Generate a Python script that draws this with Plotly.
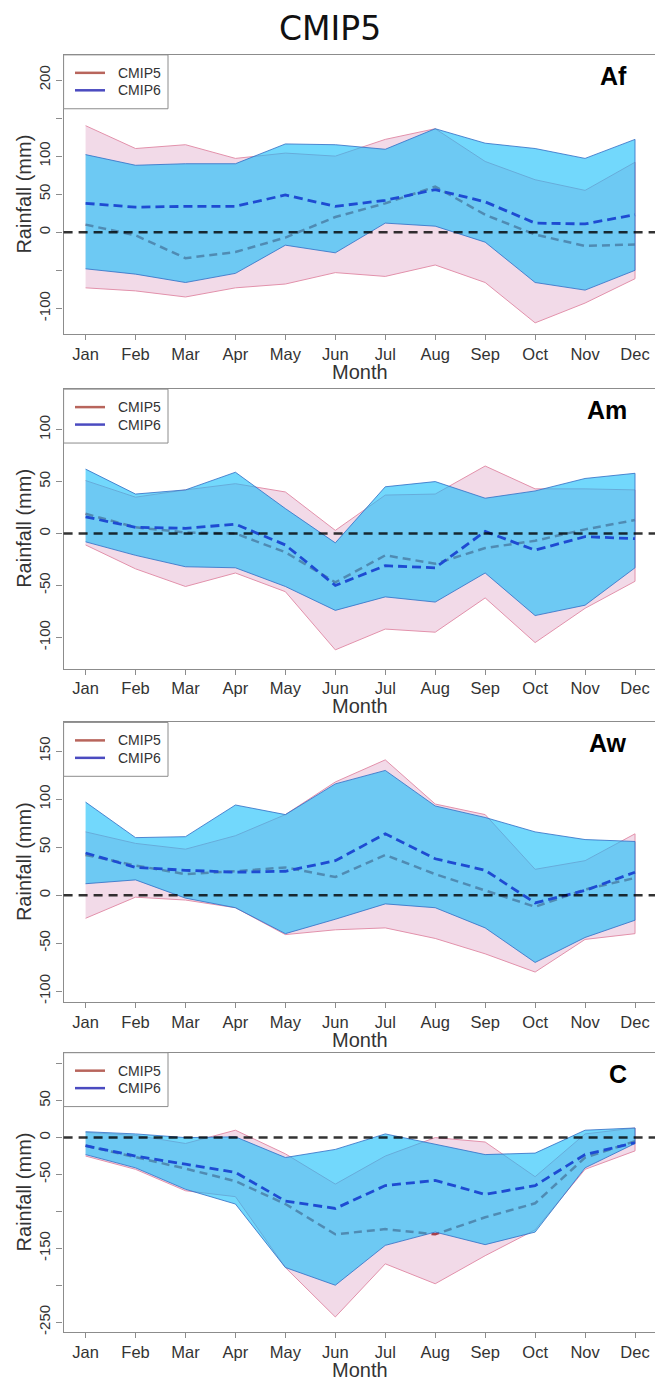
import plotly.graph_objects as go

months = ["Jan", "Feb", "Mar", "Apr", "May", "Jun", "Jul", "Aug", "Sep", "Oct", "Nov", "Dec"]
regions = ["Af", "Am", "Aw", "C"]

# ---- Af ----
af_c5_max = [140, 110, 115, 97, 104, 100, 122, 136, 93, 69, 55, 92]
af_c5_min = [-73, -77, -85, -73, -68, -53, -58, -43, -66, -119, -93, -61]
af_c5_med = [10, -4, -34, -26, -7, 20, 38, 60, 23, -3, -18, -16]
af_c6_max = [102, 88, 90, 90, 116, 115, 109, 136, 117, 110, 97, 122]
af_c6_min = [-48, -55, -66, -54, -17, -27, 12, 8, -13, -66, -76, -50]
af_c6_med = [38, 33, 34, 34, 49, 34, 42, 56, 40, 12, 11, 23]

# ---- Am ----
am_c5_max = [51, 35, 42, 48, 40, 3, 37, 38, 65, 43, 43, 42]
am_c5_min = [-11, -34, -51, -38, -56, -112, -92, -95, -62, -105, -72, -46]
am_c5_med = [19, 6, 1, 0, -18, -47, -21, -29, -14, -7, 4, 13]
am_c6_max = [62, 38, 42, 59, 24, -9, 45, 50, 34, 41, 53, 58]
am_c6_min = [-8, -21, -32, -33, -51, -74, -61, -66, -38, -79, -69, -33]
am_c6_med = [16, 6, 5, 9, -11, -50, -31, -33, 2, -16, -3, -5]

# ---- Aw ----
aw_c5_max = [66, 54, 48, 62, 84, 118, 141, 95, 84, 27, 36, 64]
aw_c5_min = [-24, -2, -5, -13, -41, -36, -34, -45, -61, -80, -46, -40]
aw_c5_med = [42, 31, 22, 25, 29, 19, 42, 22, 5, -12, 6, 18]
aw_c6_max = [97, 60, 61, 94, 84, 116, 130, 93, 81, 66, 58, 56]
aw_c6_min = [12, 16, -3, -13, -40, -25, -9, -13, -34, -70, -44, -26]
aw_c6_med = [44, 29, 26, 24, 25, 36, 64, 38, 26, -8, 5, 24]

# ---- C ----
c_c5_max = [7, 3, -8, 10, -22, -63, -25, 0, -6, -53, 5, 13]
c_c5_min = [-25, -43, -72, -80, -176, -243, -171, -198, -160, -125, -43, -18]
c_c5_med = [-11, -26, -42, -59, -90, -131, -124, -131, -108, -89, -27, -5]
c_c6_max = [8, 5, 0, 1, -27, -16, 5, -9, -23, -21, 10, 13]
c_c6_min = [-23, -41, -70, -90, -176, -200, -146, -128, -145, -128, -41, -8]
c_c6_med = [-11, -25, -36, -47, -86, -96, -65, -58, -77, -65, -23, -7]

# y-axis ranges and ticks per region
y_ranges = {"Af": [-134, 233], "Am": [-130, 139], "Aw": [-111, 180], "C": [-263.5, 115]}
y_tickvals = {
    "Af": [-100, -50, 0, 50, 100, 150, 200],
    "Am": [-100, -50, 0, 50, 100],
    "Aw": [-100, -50, 0, 50, 100, 150],
    "C": [-250, -200, -150, -100, -50, 0, 50, 100],
}
y_ticktext = {
    "Af": ["-100", "", "0", "50", "100", "", "200"],
    "Am": ["-100", "-50", "0", "50", "100"],
    "Aw": ["-100", "-50", "0", "50", "100", "150"],
    "C": ["-250", "", "-150", "", "-50", "0", "50", ""],
}

data = {
    "Af": (af_c5_max, af_c5_min, af_c5_med, af_c6_max, af_c6_min, af_c6_med),
    "Am": (am_c5_max, am_c5_min, am_c5_med, am_c6_max, am_c6_min, am_c6_med),
    "Aw": (aw_c5_max, aw_c5_min, aw_c5_med, aw_c6_max, aw_c6_min, aw_c6_med),
    "C": (c_c5_max, c_c5_min, c_c5_med, c_c6_max, c_c6_min, c_c6_med),
}

W, H = 655, 1381
PLOT_L = 63.6
PH = 280
panel_tops = [55, 390, 724, 1055]


def px(x):
    return x / W


def py(y):
    return 1 - y / H


PINK_FILL = "#F2DAE8"
PINK_EDGE = "#E291AB"
C5_MED = "#A8404A"
BLUE_FILL = "rgba(20,190,250,0.6)"
BLUE_EDGE = "rgba(55,115,200,0.85)"
C6_MED = "#1E4BD2"
AX_COL = "#8c8c8c"
TXT = "#333333"
FONT = "Liberation Sans"

fig = go.Figure()
layout = dict(
    width=W, height=H, margin=dict(l=0, r=0, t=0, b=0),
    paper_bgcolor="white", plot_bgcolor="white", showlegend=False,
    annotations=[], shapes=[],
)

for i, reg in enumerate(regions):
    n = "" if i == 0 else str(i + 1)
    xa, ya = "x" + n, "y" + n
    c5max, c5min, c5med, c6max, c6min, c6med = data[reg]
    top = panel_tops[i]

    fig.add_trace(go.Scatter(x=months + months[::-1], y=c5max + c5min[::-1], fill="toself",
                             fillcolor=PINK_FILL, line=dict(color=PINK_EDGE, width=1), mode="lines",
                             xaxis=xa, yaxis=ya, hoverinfo="skip"))
    fig.add_trace(go.Scatter(x=months, y=c5med, mode="lines",
                             line=dict(color=C5_MED, width=2.5, dash="8px,5px"),
                             xaxis=xa, yaxis=ya, hoverinfo="skip"))
    fig.add_trace(go.Scatter(x=months + months[::-1], y=c6max + c6min[::-1], fill="toself",
                             fillcolor=BLUE_FILL, line=dict(color=BLUE_EDGE, width=1), mode="lines",
                             xaxis=xa, yaxis=ya, hoverinfo="skip"))
    fig.add_trace(go.Scatter(x=months, y=c6med, mode="lines",
                             line=dict(color=C6_MED, width=2.8, dash="9px,5px"),
                             xaxis=xa, yaxis=ya, hoverinfo="skip"))

    layout["xaxis" + n] = dict(
        domain=[PLOT_L / W, 1], range=[-0.44, 11.4], anchor=ya, type="category",
        categoryorder="array", categoryarray=months,
        showline=True, mirror=True, linecolor=AX_COL, linewidth=1.3,
        ticks="outside", ticklen=5, tickcolor=AX_COL, tickwidth=1.2,
        tickfont=dict(family=FONT, size=16.5, color=TXT),
        showgrid=False, zeroline=False,
    )
    layout["yaxis" + n] = dict(
        domain=[py(top + PH), py(top)], range=y_ranges[reg], anchor=xa,
        tickmode="array", tickvals=y_tickvals[reg], ticktext=y_ticktext[reg], tickangle=-90,
        showline=True, mirror=False, linecolor=AX_COL, linewidth=1.3,
        ticks="outside", ticklen=6, tickcolor=AX_COL, tickwidth=1.2,
        tickfont=dict(family=FONT, size=15, color=TXT),
        showgrid=False, zeroline=False,
    )

    # zero reference line
    layout["shapes"].append(dict(type="line", xref=xa + " domain", x0=0, x1=1, yref=ya, y0=0, y1=0,
                                 line=dict(color="rgba(0,0,0,0.8)", width=2.5, dash="9px,6px"),
                                 layer="above"))
    # legend box
    layout["shapes"].append(dict(type="rect", xref="paper", yref="paper",
                                 x0=px(PLOT_L), x1=px(168), y0=py(top + 54), y1=py(top),
                                 line=dict(color=AX_COL, width=1), fillcolor="white", layer="above"))
    for k, (lab, col) in enumerate([("CMIP5", "#B8655C"), ("CMIP6", "#4B4BC0")]):
        yy = top + 18 + k * 17.5
        layout["shapes"].append(dict(type="line", xref="paper", yref="paper",
                                     x0=px(75), x1=px(105), y0=py(yy), y1=py(yy),
                                     line=dict(color=col, width=2.5), layer="above"))
        layout["annotations"].append(dict(text=lab, xref="paper", yref="paper", x=px(116), y=py(yy),
                                          xanchor="left", yanchor="middle", showarrow=False,
                                          font=dict(family=FONT, size=14, color=TXT)))
    # region label
    layout["annotations"].append(dict(text="<b>%s</b>" % reg, xref="paper", yref="paper",
                                      x=px(629), y=py(top + 21), xanchor="right", yanchor="middle",
                                      showarrow=False, font=dict(family=FONT, size=25, color="black")))
    # axis titles
    layout["annotations"].append(dict(text="Rainfall (mm)", xref="paper", yref="paper",
                                      x=px(24), y=py(top + PH / 2), textangle=-90,
                                      xanchor="center", yanchor="middle", showarrow=False,
                                      font=dict(family=FONT, size=20, color=TXT)))
    layout["annotations"].append(dict(text="Month", xref="paper", yref="paper",
                                      x=px(360), y=py(top + PH + 38), xanchor="center", yanchor="middle",
                                      showarrow=False, font=dict(family=FONT, size=20, color=TXT)))

layout["annotations"].append(dict(text="CMIP5", xref="paper", yref="paper", x=px(330), y=py(29),
                                  xanchor="center", yanchor="middle", showarrow=False,
                                  font=dict(family="DejaVu Sans", size=33, color="#111111")))

fig.update_layout(**layout)
fig.write_html("out.html", config={"displayModeBar": False},
               post_script="document.body.style.margin='0px';document.body.style.overflow='hidden';")
